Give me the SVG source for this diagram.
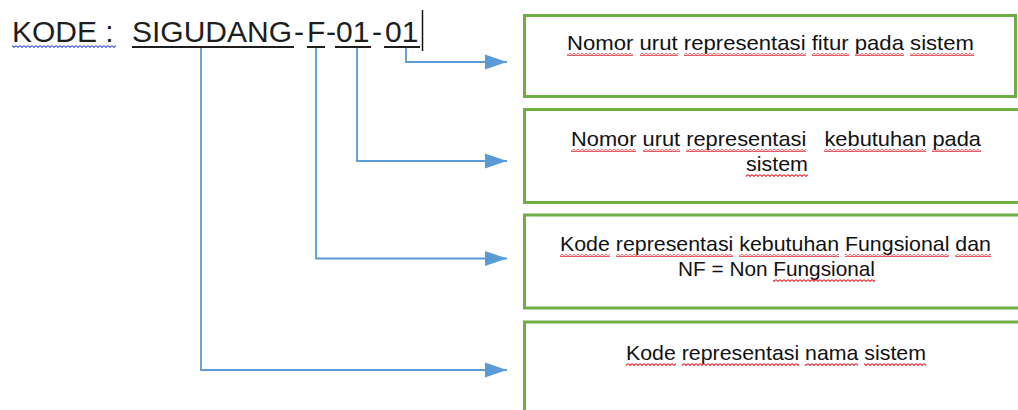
<svg xmlns="http://www.w3.org/2000/svg" width="1018" height="410" viewBox="0 0 1018 410">
<style>
  .title{font-family:"Liberation Sans",Arial,sans-serif;font-size:30px;fill:#1e1e1e}
  .lbl{font-family:"Liberation Sans",Arial,sans-serif;font-size:21px;fill:#111;white-space:pre}
  .box{fill:#fff;stroke:#70AD47;stroke-width:3}
  .conn{fill:none;stroke:#5B9BD5;stroke-width:1.8}
  .ul{stroke:#1e1e1e;stroke-width:2}
  .sq{fill:url(#sqRed)}
  .sqb{fill:url(#sqBlue)}
</style>
<defs>
  <pattern id="sqRed" patternUnits="userSpaceOnUse" width="4" height="3">
    <path d="M0 0.6 L2 2.4 L4 0.6" fill="none" stroke="#e8202a" stroke-width="1.1"/>
  </pattern>
  <pattern id="sqBlue" patternUnits="userSpaceOnUse" width="4" height="3">
    <path d="M0 0.6 L2 2.4 L4 0.6" fill="none" stroke="#3b4fe0" stroke-width="1.1"/>
  </pattern>
  <marker id="arr" markerUnits="userSpaceOnUse" markerWidth="23" markerHeight="16" refX="22" refY="8" orient="auto">
    <path d="M0 0.5 L22 8 L0 15.5 Z" fill="#5B9BD5"/>
  </marker>
</defs>
<rect width="1018" height="410" fill="#fff"/>

<g id="code-title">
  <text class="title" y="42"><tspan x="12">KODE :</tspan><tspan x="132">SIGUDANG</tspan><tspan x="294">-</tspan><tspan x="307">F</tspan><tspan x="326">-</tspan><tspan x="336">01</tspan><tspan x="372">-</tspan><tspan x="385">01</tspan></text>
  <rect class="sqb" x="12" y="45" width="104" height="3"/>
  <line class="ul" x1="132" y1="47" x2="294" y2="47"/>
  <line class="ul" x1="307" y1="47" x2="325" y2="47"/>
  <line class="ul" x1="335" y1="47" x2="371" y2="47"/>
  <line class="ul" x1="384" y1="47" x2="420" y2="47"/>
  <line x1="422.5" y1="10" x2="422.5" y2="51" stroke="#111" stroke-width="1.5"/>
</g>

<g id="connectors">
  <path class="conn" d="M406 48 V62 H507" marker-end="url(#arr)"/>
  <path class="conn" d="M357 48 V161 H507" marker-end="url(#arr)"/>
  <path class="conn" d="M316 48 V258.5 H507" marker-end="url(#arr)"/>
  <path class="conn" d="M201 48 V370 H507" marker-end="url(#arr)"/>
</g>

<g id="node-fitur">
  <rect class="box" x="524.5" y="15.5" width="491" height="81"/>
  <text class="lbl" x="567" y="50" textLength="407" lengthAdjust="spacingAndGlyphs">Nomor urut representasi fitur pada sistem</text>
  <rect class="sq" x="567" y="53" width="66" height="3"/>
  <rect class="sq" x="640" y="53" width="38" height="3"/>
  <rect class="sq" x="684" y="53" width="122" height="3"/>
  <rect class="sq" x="812" y="53" width="37" height="3"/>
  <rect class="sq" x="855" y="53" width="49" height="3"/>
  <rect class="sq" x="910" y="53" width="64" height="3"/>
</g>

<g id="node-kebutuhan">
  <rect class="box" x="524.5" y="109.5" width="510" height="93"/>
  <text class="lbl" x="571" y="146" textLength="410" lengthAdjust="spacingAndGlyphs">Nomor urut representasi   kebutuhan pada</text>
  <rect class="sq" x="571" y="149" width="65" height="3"/>
  <rect class="sq" x="643" y="149" width="37" height="3"/>
  <rect class="sq" x="686" y="149" width="120" height="3"/>
  <rect class="sq" x="824" y="149" width="102" height="3"/>
  <rect class="sq" x="932" y="149" width="49" height="3"/>
  <text class="lbl" x="746" y="171" textLength="62" lengthAdjust="spacingAndGlyphs">sistem</text>
  <rect class="sq" x="746" y="174" width="62" height="3"/>
</g>

<g id="node-fungsional">
  <rect class="box" x="524.5" y="215" width="510" height="93"/>
  <text class="lbl" x="560" y="251" textLength="431" lengthAdjust="spacingAndGlyphs">Kode representasi kebutuhan Fungsional dan</text>
  <rect class="sq" x="560" y="254" width="50" height="3"/>
  <rect class="sq" x="616" y="254" width="117" height="3"/>
  <rect class="sq" x="739" y="254" width="100" height="3"/>
  <rect class="sq" x="845" y="254" width="104" height="3"/>
  <rect class="sq" x="955" y="254" width="36" height="3"/>
  <text class="lbl" x="678" y="276" textLength="197" lengthAdjust="spacingAndGlyphs">NF = Non Fungsional</text>
  <rect class="sq" x="773" y="279" width="102" height="3"/>
</g>

<g id="node-nama">
  <rect class="box" x="524.5" y="322" width="510" height="100"/>
  <text class="lbl" x="626" y="360" textLength="300" lengthAdjust="spacingAndGlyphs">Kode representasi nama sistem</text>
  <rect class="sq" x="626" y="363" width="50" height="3"/>
  <rect class="sq" x="682" y="363" width="117" height="3"/>
  <rect class="sq" x="805" y="363" width="53" height="3"/>
  <rect class="sq" x="864" y="363" width="62" height="3"/>
</g>
</svg>
